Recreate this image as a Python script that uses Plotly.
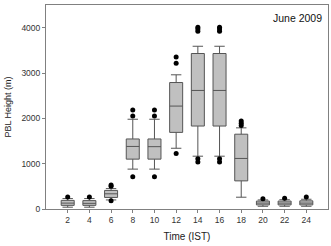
import plotly.graph_objects as go

times = [2, 4, 6, 8, 10, 12, 14, 16, 18, 20, 22, 24]
lower_whisker = [40, 40, 200, 880, 880, 1340, 1165, 1165, 260, 60, 60, 60]
q1 = [80, 80, 255, 1100, 1100, 1690, 1830, 1830, 620, 90, 90, 90]
median = [130, 125, 335, 1380, 1375, 2270, 2615, 2615, 1115, 130, 130, 130]
q3 = [190, 185, 410, 1545, 1545, 2790, 3430, 3430, 1650, 175, 175, 180]
upper_whisker = [230, 230, 450, 1980, 1980, 2960, 3590, 3590, 1790, 200, 205, 215]
outliers = [
    [265],
    [265],
    [500, 530, 180],
    [2050, 2185, 710],
    [2050, 2185, 710],
    [3215, 3355, 1225],
    [3920, 3970, 4010, 1110, 1035],
    [3920, 3970, 4010, 1110, 1035],
    [1840, 1890, 1940],
    [225],
    [235],
    [265],
]
x_ticks = [2, 4, 6, 8, 10, 12, 14, 16, 18, 20, 22, 24]
y_ticks = [0, 1000, 2000, 3000, 4000]

fig = go.Figure()
fig.add_trace(go.Box(
    x=times, q1=q1, median=median, q3=q3,
    lowerfence=lower_whisker, upperfence=upper_whisker,
    width=1.2, whiskerwidth=0.8,
    fillcolor="#c0c0c0", line=dict(color="#555555", width=1),
    boxpoints=False, showlegend=False, hoverinfo="skip",
))
ox, oy = [], []
for t, vals in zip(times, outliers):
    for v in vals:
        ox.append(t)
        oy.append(v)
fig.add_trace(go.Scatter(
    x=ox, y=oy, mode="markers",
    marker=dict(color="black", size=5),
    showlegend=False, hoverinfo="skip",
))

FONT = "Liberation Sans, Arial"
axis_common = dict(
    showgrid=False, zeroline=False, showline=True, mirror=True,
    linecolor="#808080", linewidth=1, ticks="outside", ticklen=3,
    tickcolor="#808080", tickfont=dict(family=FONT, size=8.5, color="#333333"),
)
fig.update_layout(
    width=331, height=246,
    margin=dict(l=46, r=3, t=5, b=37),
    paper_bgcolor="white", plot_bgcolor="white",
    xaxis=dict(range=[0, 26], tickvals=x_ticks,
               title=dict(text="Time (IST)", font=dict(family=FONT, size=10, color="#222222"), standoff=8),
               **axis_common),
    yaxis=dict(range=[0, 4500], tickvals=y_ticks,
               title=dict(text="PBL Height (m)", font=dict(family=FONT, size=9, color="#222222"), standoff=8),
               **axis_common),
    annotations=[dict(text="June 2009", x=0.985, y=0.975, xref="paper", yref="paper",
                      xanchor="right", yanchor="top", showarrow=False,
                      font=dict(family=FONT, size=10.5, color="#111111"))],
)
fig.write_html("out.html", config={"displayModeBar": False, "staticPlot": True},
               post_script="document.body.style.margin='0';document.body.style.overflow='hidden';")
